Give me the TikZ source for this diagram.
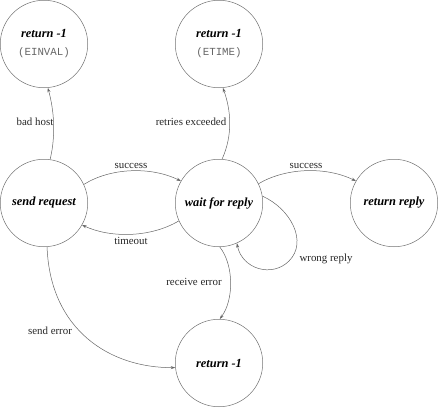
\documentclass[tikz,border=0pt]{standalone}
\usepackage{fontspec}
\setmainfont{Liberation Serif}
\setmonofont{Liberation Mono}
\usetikzlibrary{arrows.meta}
\begin{document}
\begin{tikzpicture}[x=1pt,y=-1pt,
  state/.style={circle,draw=black!55,line width=0.5pt,minimum size=87.5pt,inner sep=0pt,
    font=\fontsize{12.4}{14}\selectfont\bfseries\itshape,align=center},
  edge/.style={draw=black!60,line width=0.5pt,-{Stealth[length=4.5pt,width=3pt]}},
  lbl/.style={font=\fontsize{10.9}{12}\selectfont,text=black!85,inner sep=0pt}]
\useasboundingbox (0,0) rectangle (438,407);
\node[state] (einval) at (44,44) {return -1\\[4pt]{\mdseries\upshape\ttfamily\fontsize{10.8}{12}\selectfont\color{black!60}(EINVAL)}};
\node[state] (etime) at (219,44) {return -1\\[4pt]{\mdseries\upshape\ttfamily\fontsize{10.8}{12}\selectfont\color{black!60}(ETIME)}};
\node[state] (send) at (44,203) {send request};
\node[state] (wait) at (219,203) {wait for reply};
\node[state] (reply) at (394,203) {return reply};
\node[state] (ret) at (219,363) {return -1};
\coordinate (loopmid) at (289,261);

\draw[edge] (send.82) .. controls (56,135) and (54,110) .. (einval.-85);
\draw[edge] (wait.86) .. controls (233,135) and (231,110) .. (etime.-85);
\draw[edge] (send.25) .. controls (110,168) and (150,166) .. (wait.150);
\draw[edge] (wait.-156) .. controls (150,238) and (110,238) .. (send.-30);
\draw[edge] (wait.26) .. controls (285,168) and (325,166) .. (reply.150);
\draw[edge] (wait.-89) .. controls (234,265) and (234,300) .. (ret.89);
\draw[edge] (send.-86) .. controls (50,330) and (110,368) .. (ret.-174);
\draw[edge] (wait.9) .. controls (291,209) and (308,242) .. (loopmid)
  .. controls (272,278) and (242,269) .. (wait.-66);

\node[lbl] (l1) at (35,122) {bad host};
\node[lbl] (l2) at (191,122) {retries exceeded};
\node[lbl] (l3) at (131,166) {success};
\node[lbl] (l4) at (131,241) {timeout};
\node[lbl] (l5) at (306,166) {success};
\node[lbl] (l6) at (326,259) {wrong reply};
\node[lbl] (l7) at (194,282) {receive error};
\node[lbl] (l8) at (50,331) {send error};
\end{tikzpicture}
\end{document}
